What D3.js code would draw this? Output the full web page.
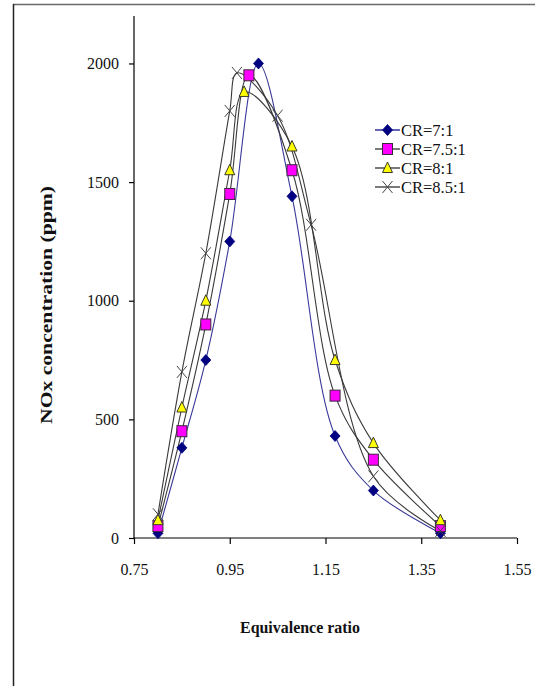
<!DOCTYPE html>
<html>
<head>
<meta charset="utf-8">
<script src="https://cdn.jsdelivr.net/npm/d3@7"></script>
<style>
  html, body { margin: 0; padding: 0; background: #fff; }
  svg { display: block; }
  text { font-family: "Liberation Serif", "Times New Roman", serif; }
</style>
</head>
<body>
<svg id="chart" width="535" height="686"></svg>
<script>
// NOx concentration vs equivalence ratio for four compression ratios
const seriesNames = ["CR=7:1", "CR=7.5:1", "CR=8:1", "CR=8.5:1"];

const phiCR70  = [0.80, 0.85, 0.90, 0.95, 1.01, 1.08, 1.17, 1.25, 1.39];
const noxCR70  = [20, 380, 750, 1250, 2000, 1440, 430, 200, 20];

const phiCR75  = [0.80, 0.85, 0.90, 0.95, 0.99, 1.08, 1.17, 1.25, 1.39];
const noxCR75  = [50, 450, 900, 1450, 1950, 1550, 600, 330, 50];

const phiCR80  = [0.80, 0.85, 0.90, 0.95, 0.98, 1.08, 1.17, 1.25, 1.39];
const noxCR80  = [75, 550, 1000, 1550, 1880, 1650, 750, 400, 75];

const phiCR85  = [0.80, 0.85, 0.90, 0.95, 0.965, 1.05, 1.12, 1.25, 1.39];
const noxCR85  = [100, 700, 1200, 1800, 1960, 1780, 1320, 260, 30];

const xTicks = [0.75, 0.95, 1.15, 1.35, 1.55];
const yTicks = [0, 500, 1000, 1500, 2000];

const series = [
  { name: seriesNames[0], phi: phiCR70, nox: noxCR70, marker: "diamond", line: "#3a3a9a", key: "#000080", fill: "#000080", stroke: "#000080" },
  { name: seriesNames[1], phi: phiCR75, nox: noxCR75, marker: "square",  line: "#3a3a3a", key: "#222",    fill: "#ff00ff", stroke: "#3a2a3a" },
  { name: seriesNames[2], phi: phiCR80, nox: noxCR80, marker: "triangle",line: "#3a3a3a", key: "#222",    fill: "#ffff00", stroke: "#3a3a2a" },
  { name: seriesNames[3], phi: phiCR85, nox: noxCR85, marker: "cross",   line: "#3a3a3a", key: "#222",    fill: "none",    stroke: "#444444" }
];

const svg = d3.select("#chart");

// outer frame (top and left edges visible)
svg.append("line").attr("x1", 13).attr("y1", 4.5).attr("x2", 535).attr("y2", 4.5)
  .attr("stroke", "#6a6a6a").attr("stroke-width", 1.5);
svg.append("line").attr("x1", 13.5).attr("y1", 4).attr("x2", 13.5).attr("y2", 686)
  .attr("stroke", "#222").attr("stroke-width", 1.5);

const plot = { left: 134, right: 517, top: 16, bottom: 538 };

const x = d3.scaleLinear().domain([0.75, 1.55]).range([plot.left, plot.right]);
const y = d3.scaleLinear().domain([0, 2200]).range([plot.bottom, plot.top]);

// axes
const xAxis = d3.axisBottom(x).tickValues(xTicks).tickSize(6).tickPadding(20)
  .tickFormat(d => d3.format(".2f")(d));
const yAxis = d3.axisLeft(y).tickValues(yTicks).tickSize(5).tickPadding(10)
  .tickFormat(d3.format("d"));

const gx = svg.append("g").attr("transform", `translate(0,${plot.bottom})`).call(xAxis);
gx.select(".domain").attr("d", `M${plot.left},0H${plot.right}`).attr("stroke", "#000").attr("stroke-width", 1.2);
gx.selectAll(".tick line").attr("stroke", "#000").attr("stroke-width", 1.2);
gx.selectAll(".tick text").attr("font-size", 16).attr("fill", "#111")
  .attr("font-family", "Liberation Serif, serif");

const gy = svg.append("g").attr("transform", `translate(${plot.left},0)`).call(yAxis);
gy.select(".domain").attr("d", `M0,${plot.top}V${plot.bottom}`).attr("stroke", "#000").attr("stroke-width", 1.2);
gy.selectAll(".tick line").attr("stroke", "#000").attr("stroke-width", 1.2);
gy.selectAll(".tick text").attr("font-size", 16).attr("fill", "#111")
  .attr("font-family", "Liberation Serif, serif");

// axis titles
svg.append("text")
  .attr("x", 300).attr("y", 633)
  .attr("text-anchor", "middle")
  .attr("font-size", 16).attr("font-weight", "bold").attr("fill", "#111")
  .attr("textLength", 120).attr("lengthAdjust", "spacingAndGlyphs")
  .text("Equivalence ratio");

svg.append("text")
  .attr("transform", "translate(52,305) rotate(-90)")
  .attr("text-anchor", "middle")
  .attr("font-size", 17).attr("font-weight", "bold").attr("fill", "#111")
  .attr("textLength", 238).attr("lengthAdjust", "spacingAndGlyphs")
  .text("NOx concentration (ppm)");

// smoothed lines
const line = d3.line()
  .x(d => x(d[0]))
  .y(d => y(d[1]))
  .curve(d3.curveCatmullRom.alpha(0.5));

const lineLayer = svg.append("g");
series.forEach(s => {
  const pts = s.phi.map((p, i) => [p, s.nox[i]]);
  lineLayer.append("path")
    .datum(pts)
    .attr("d", line)
    .attr("fill", "none")
    .attr("stroke", s.line)
    .attr("stroke-width", 1.1);
});

// marker shapes
function drawMarker(g, type, cx, cy, s) {
  if (type === "diamond") {
    g.append("path")
      .attr("d", `M${cx},${cy - 5.5}L${cx + 5},${cy}L${cx},${cy + 5.5}L${cx - 5},${cy}Z`)
      .attr("fill", s.fill).attr("stroke", s.stroke).attr("stroke-width", 0.8);
  } else if (type === "square") {
    g.append("rect")
      .attr("x", cx - 5).attr("y", cy - 5.5).attr("width", 10).attr("height", 11)
      .attr("fill", s.fill).attr("stroke", s.stroke).attr("stroke-width", 1);
  } else if (type === "triangle") {
    g.append("path")
      .attr("d", `M${cx},${cy - 6}L${cx + 5},${cy + 4.5}L${cx - 5},${cy + 4.5}Z`)
      .attr("fill", s.fill).attr("stroke", s.stroke).attr("stroke-width", 1);
  } else if (type === "cross") {
    g.append("path")
      .attr("d", `M${cx - 5},${cy - 6}L${cx + 5},${cy + 6}M${cx + 5},${cy - 6}L${cx - 5},${cy + 6}`)
      .attr("fill", "none").attr("stroke", s.stroke).attr("stroke-width", 1);
  }
}

const markerLayer = svg.append("g");
series.forEach(s => {
  s.phi.forEach((p, i) => drawMarker(markerLayer, s.marker, x(p), y(s.nox[i]), s));
});

// legend
const legend = svg.append("g");
const legendY = [130, 149, 168, 187];
series.forEach((s, i) => {
  const ly = legendY[i];
  legend.append("line")
    .attr("x1", 375).attr("x2", 400).attr("y1", ly).attr("y2", ly)
    .attr("stroke", s.key).attr("stroke-width", 1.2);
  drawMarker(legend, s.marker, 387.5, ly, s);
  legend.append("text")
    .attr("x", 401).attr("y", ly + 5.5)
    .attr("font-size", 16.5).attr("fill", "#111")
    .text(s.name);
});
</script>
</body>
</html>
